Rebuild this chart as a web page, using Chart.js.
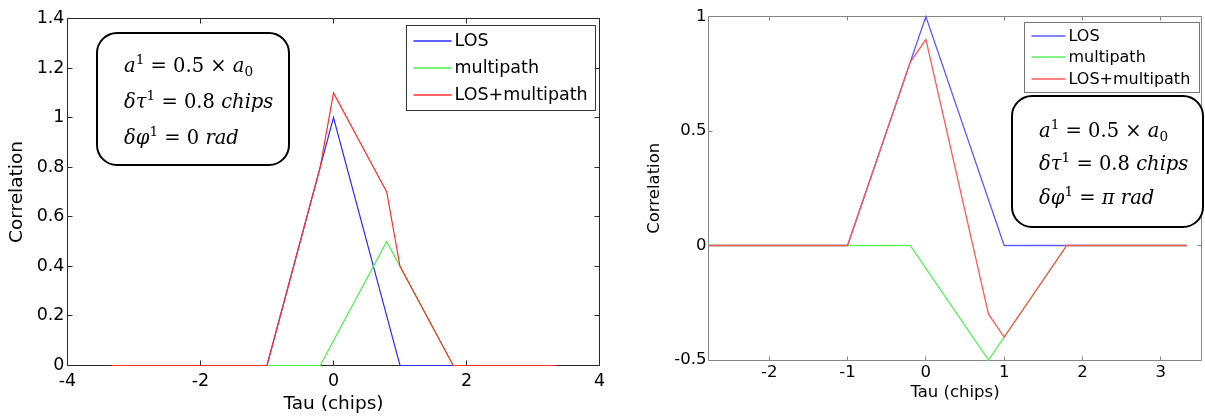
<!DOCTYPE html>
<html>
<head>
<meta charset="utf-8">
<script src="https://cdn.jsdelivr.net/npm/chart.js@4.4.0/dist/chart.umd.min.js"></script>
<style>
html,body{margin:0;padding:0;background:#fff;width:1205px;height:419px;overflow:hidden;}
#w1{position:absolute;left:0;top:0;width:605px;height:419px;}
#w2{position:absolute;left:615px;top:0;width:590px;height:419px;}
canvas{display:block;}
</style>
</head>
<body>
<div id="w1"><canvas id="c1" width="605" height="419"></canvas></div>
<div id="w2"><canvas id="c2" width="590" height="419"></canvas></div>
<script>
// ---- data ----
const tau = [-3.333, -1, -0.2, 0, 0.8, 1, 1.8, 3.333];
const losCorr = [0, 0, 0.8, 1, 0.2, 0, 0, 0];
const multipathInPhase = [0, 0, 0, 0.1, 0.5, 0.4, 0, 0];
const sumInPhase = [0, 0, 0.8, 1.1, 0.7, 0.4, 0, 0];
const multipathAnti = [0, 0, 0, -0.1, -0.5, -0.4, 0, 0];
const sumAnti = [0, 0, 0.8, 0.9, -0.3, -0.4, 0, 0];
const seriesLabels = ['LOS', 'multipath', 'LOS+multipath'];
const xTicksLeft = [-4, -2, 0, 2, 4];
const yTicksLeft = [0, 0.2, 0.4, 0.6, 0.8, 1, 1.2, 1.4];
const xTicksRight = [-2, -1, 0, 1, 2, 3];
const yTicksRight = [-0.5, 0, 0.5, 1];
const xTitle = 'Tau (chips)';
const yTitle = 'Correlation';

const pts = arr => arr.map((v, i) => ({x: tau[i], y: v}));
const half = v => Math.round(v - 0.5) + 0.5;

// ---- plugins ----
const axisBox = {
  id: 'axisBox',
  beforeDatasetsDraw(chart, args, o) {
    const {ctx, chartArea: a, scales: {x, y}} = chart;
    ctx.save();
    ctx.strokeStyle = o.color;
    ctx.lineWidth = 1;
    const L = half(a.left), R = half(a.right), T = half(a.top), B = half(a.bottom);
    ctx.beginPath();
    ctx.moveTo(L, T); ctx.lineTo(R, T); ctx.lineTo(R, B); ctx.lineTo(L, B); ctx.closePath();
    ctx.stroke();
    ctx.beginPath();
    x.ticks.forEach(t => {
      const p = half(x.getPixelForValue(t.value));
      ctx.moveTo(p, B); ctx.lineTo(p, B - o.len);
      ctx.moveTo(p, T); ctx.lineTo(p, T + o.len);
    });
    y.ticks.forEach(t => {
      const p = half(y.getPixelForValue(t.value));
      ctx.moveTo(L, p); ctx.lineTo(L + o.len, p);
      ctx.moveTo(R, p); ctx.lineTo(R - o.len, p);
    });
    ctx.stroke();
    ctx.restore();
  }
};

const boxLegend = {
  id: 'boxLegend',
  afterDatasetsDraw(chart, args, o) {
    const {ctx, chartArea: a} = chart;
    const right = a.right - o.right, left = right - o.w, top = a.top + o.top;
    ctx.save();
    ctx.fillStyle = '#fff';
    ctx.fillRect(left, top, o.w, o.h);
    ctx.strokeStyle = o.border;
    ctx.lineWidth = 1;
    ctx.strokeRect(Math.round(left) + 0.5, Math.round(top) + 0.5, Math.round(o.w), Math.round(o.h));
    ctx.font = o.font;
    ctx.textBaseline = 'middle';
    ctx.fillStyle = '#000';
    chart.data.datasets.forEach((ds, i) => {
      const yy = top + o.first + i * o.step;
      ctx.strokeStyle = ds.borderColor;
      ctx.lineWidth = 1.5;
      ctx.beginPath();
      ctx.moveTo(left + o.lx0, Math.round(yy));
      ctx.lineTo(left + o.lx1, Math.round(yy));
      ctx.stroke();
      ctx.fillText(ds.label, left + o.tx, yy + 1);
    });
    ctx.restore();
  }
};

function drawMath(ctx, x, y, segs, size) {
  let cx = x;
  segs.forEach(s => {
    let fs = size, dy = 0;
    if (s.sup) { fs = size * 0.7; dy = -size * 0.4; }
    if (s.sub) { fs = size * 0.7; dy = size * 0.2; }
    ctx.font = (s.it ? 'italic ' : '') + fs + 'px "DejaVu Serif"';
    ctx.fillText(s.t, cx, y + dy);
    cx += ctx.measureText(s.t).width;
  });
}

const noteBox = {
  id: 'noteBox',
  afterDatasetsDraw(chart, args, o) {
    const {ctx} = chart;
    ctx.save();
    ctx.beginPath();
    ctx.roundRect(o.x, o.y, o.w, o.h, o.r);
    ctx.fillStyle = '#fff';
    ctx.fill();
    ctx.lineWidth = 2;
    ctx.strokeStyle = '#000';
    ctx.stroke();
    ctx.fillStyle = '#000';
    ctx.textBaseline = 'alphabetic';
    o.lines.forEach((segs, i) => drawMath(ctx, o.x + o.pad, o.y + o.base[i], segs, o.size));
    ctx.restore();
  }
};

function makeConfig(p) {
  const font = s => ({family: '"DejaVu Sans"', size: s});
  const clip = {left: 0, top: false, right: false, bottom: false};
  const ds = (i, arr) => ({
    label: seriesLabels[i], data: pts(arr), borderColor: p.colors[i], borderWidth: p.lw,
    order: 3 - i, clip: clip, pointRadius: 0, tension: 0, fill: false
  });
  return {
    type: 'line',
    data: {datasets: [ds(0, p.los), ds(1, p.mp), ds(2, p.sum)]},
    options: {
      responsive: false,
      animation: false,
      devicePixelRatio: 1,
      layout: {padding: {top: p.padTop, right: p.padRight, left: 0, bottom: 0}},
      plugins: {
        legend: {display: false},
        tooltip: {enabled: false},
        axisBox: {color: p.axisColor, len: p.tickLen},
        boxLegend: p.legend,
        noteBox: p.note
      },
      scales: {
        x: {
          type: 'linear', min: p.xmin, max: p.xmax,
          afterBuildTicks: s => { s.ticks = p.xt.map(v => ({value: v})); },
          afterFit: s => { s.height = p.xh; s.paddingLeft = 0; s.paddingRight = 0; },
          grid: {display: false, drawTicks: false},
          border: {display: false},
          ticks: {font: font(p.tickSize), color: '#000', padding: p.xPad, maxRotation: 0, autoSkip: false, callback: v => String(v)},
          title: {display: true, text: xTitle, color: '#000', font: font(p.titleSize), padding: {top: 0, bottom: p.xTitlePad}}
        },
        y: {
          type: 'linear', min: p.ymin, max: p.ymax,
          afterBuildTicks: s => { s.ticks = p.yt.map(v => ({value: v})); },
          afterFit: s => { s.width = p.yw; s.paddingTop = 0; s.paddingBottom = 0; },
          grid: {display: false, drawTicks: false},
          border: {display: false},
          ticks: {font: font(p.tickSize), color: '#000', padding: p.yPad, autoSkip: false, callback: v => String(v)},
          title: {display: true, text: yTitle, color: '#000', font: font(p.titleSize), padding: {top: p.yTitlePad, bottom: 0}}
        }
      }
    },
    plugins: [axisBox, boxLegend, noteBox]
  };
}

const line1 = [{t: 'a', it: 1}, {t: '1', sup: 1}, {t: ' = 0.5 × '}, {t: 'a', it: 1}, {t: '0', sub: 1}];
const line2 = [{t: 'δτ', it: 1}, {t: '1', sup: 1}, {t: ' = 0.8 '}, {t: 'chips', it: 1}];
const line3a = [{t: 'δφ', it: 1}, {t: '1', sup: 1}, {t: ' = 0 '}, {t: 'rad', it: 1}];
const line3b = [{t: 'δφ', it: 1}, {t: '1', sup: 1}, {t: ' = '}, {t: 'π rad', it: 1}];

new Chart(document.getElementById('c1'), makeConfig({
  los: losCorr, mp: multipathInPhase, sum: sumInPhase,
  colors: ['#2a2aff', '#4cec4c', '#ff3030'], lw: 1.2,
  xmin: -4, xmax: 4, ymin: 0, ymax: 1.4, xt: xTicksLeft, yt: yTicksLeft,
  padTop: 18.5, padRight: 5.5, xh: 53.5, yw: 67.5,
  tickSize: 17.5, titleSize: 18.5, xPad: 5, yPad: 3, xTitlePad: 4, yTitlePad: 6,
  axisColor: '#2a2a2a', tickLen: 5,
  legend: {right: 5, top: 6, w: 189, h: 85, first: 16, step: 27, lx0: 8, lx1: 46, tx: 49, font: '17.5px "DejaVu Sans"', border: '#333'},
  note: {x: 97, y: 33, w: 192, h: 132, r: 20, pad: 27, base: [39, 75, 111], size: 19.5, lines: [line1, line2, line3a]}
}));

new Chart(document.getElementById('c2'), makeConfig({
  los: losCorr, mp: multipathAnti, sum: sumAnti,
  colors: ['#5c5cff', '#5cf05c', '#ff5a5a'], lw: 1.3,
  xmin: -2.776, xmax: 3.52, ymin: -0.5, ymax: 1, xt: xTicksRight, yt: yTicksRight,
  padTop: 16.5, padRight: 3.5, xh: 59, yw: 93.5,
  tickSize: 16.5, titleSize: 16.5, xPad: 3, yPad: 2, xTitlePad: 16, yTitlePad: 30,
  axisColor: '#858585', tickLen: 4,
  legend: {right: 3, top: 5, w: 175, h: 70, first: 14, step: 21.5, lx0: 8, lx1: 42, tx: 45, font: '16px "DejaVu Sans"', border: '#777'},
  note: {x: 397, y: 96, w: 191, h: 131, r: 20, pad: 27, base: [41, 74, 108], size: 19.5, lines: [line1, line2, line3b]}
}));
</script>
</body>
</html>
